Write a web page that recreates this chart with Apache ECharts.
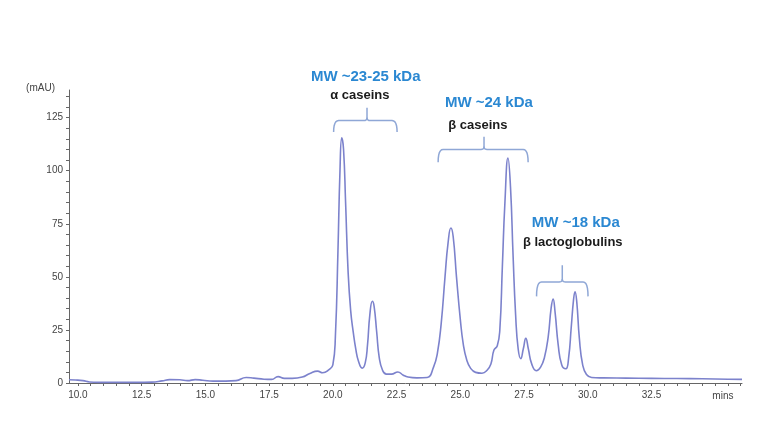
<!DOCTYPE html>
<html>
<head>
<meta charset="utf-8">
<title>Milk protein chromatogram</title>
<script src="https://cdn.jsdelivr.net/npm/echarts@6/dist/echarts.min.js"></script>
<style>
    html, body { margin: 0; padding: 0; background: #fff; }
    #chart { width: 768px; height: 432px; }
</style>
</head>
<body>
<div id="chart"></div>
<script>
// retention time (mins) and absorbance (mAU)
var times = [
    9.65, 9.9, 10.2, 10.45, 10.8, 11.5, 12.3, 12.9, 13.3, 13.6,
    14.0, 14.3, 14.6, 14.9, 15.3, 15.8, 16.2, 16.6, 16.9, 17.3,
    17.6, 17.85, 18.1, 18.4, 18.8, 19.1, 19.4, 19.6, 19.85, 20.0,
    20.1, 20.2, 20.28, 20.35, 20.42, 20.5, 20.6, 20.7, 20.8, 20.9,
    21.0, 21.15, 21.27, 21.36, 21.45, 21.55, 21.62, 21.72, 21.82, 21.95,
    22.1, 22.3, 22.55, 22.75, 22.95, 23.3, 23.7, 23.95, 24.1, 24.25,
    24.4, 24.52, 24.63, 24.72, 24.85, 25.0, 25.12, 25.25, 25.4, 25.6,
    25.85, 26.05, 26.2, 26.32, 26.45, 26.55, 26.65, 26.75, 26.87, 26.97,
    27.07, 27.17, 27.27, 27.37, 27.47, 27.57, 27.67, 27.8, 27.98, 28.15,
    28.3, 28.45, 28.56, 28.64, 28.72, 28.84, 28.98, 29.14, 29.25, 29.35,
    29.44, 29.5, 29.57, 29.67, 29.8, 29.95, 30.15, 30.6, 31.5, 32.5,
    33.5, 34.5, 35.5, 36.05
];
var absorbance = [
    1.5, 1.4, 1.1, 0.5, 0.3, 0.3, 0.3, 0.4, 1.0, 1.6,
    1.5, 1.1, 1.6, 1.3, 0.9, 0.9, 1.1, 2.6, 2.3, 1.8,
    1.7, 3.0, 2.2, 2.2, 2.8, 4.5, 5.6, 4.8, 6.3, 8.5,
    22, 62, 100, 115.5, 110, 85, 52, 34, 24, 16,
    10.5, 7, 9.5, 18, 32, 38.5, 36, 24, 12, 6,
    4.2, 4.2, 5.2, 3.8, 2.8, 2.4, 2.6, 7.5, 14, 28,
    50, 66, 73, 69, 50, 30, 18, 11, 7, 5,
    4.6, 6, 9, 15.5, 17.5, 25, 55, 85, 106, 92,
    60, 32, 16, 11.5, 16, 21, 16, 9, 5.8, 7.5,
    12, 22, 35, 39.5, 33, 18, 8.5, 6.7, 12, 26,
    39, 43, 38, 21, 8.5, 4, 2.6, 2.4, 2.3, 2.2,
    2.1, 2.0, 1.8, 1.7
];

var xLabelValues = [10, 12.5, 15, 17.5, 20, 22.5, 25, 27.5, 30, 32.5];
var xTickValues = [];
for (var t = 10; t <= 36; t += 0.5) { xTickValues.push(t); }
var yLabelValues = [0, 25, 50, 75, 100, 125];
var yTickValues = [];
for (var v = 0; v <= 135; v += 5) { yTickValues.push(v); }

// annotation groups: bracket span [from, to, centre] in mins, levels [bar, ends, stem] in mAU
var groupNames = ['α caseins', 'β caseins', 'β lactoglobulins'];
var groupWeights = ['MW ~23-25 kDa', 'MW ~24 kDa', 'MW ~18 kDa'];
var bracketSpans = [[20.03, 22.52, 21.34], [24.13, 27.66, 25.93], [27.99, 30.01, 29.0]];
var bracketLevels = [[123.6, 118.2, 129.6], [110, 104, 116], [47.6, 40.8, 55.5]];
var weightAnchors = [[21.29, 144], [26.12, 132], [29.53, 75.5]];
var nameAnchors = [[21.06, 135.5], [25.69, 121.5], [29.41, 66]];

var seriesData = times.map(function (t, i) { return [t, absorbance[i]]; });

var myChart = echarts.init(document.getElementById('chart'));

var axisColor = '#666';
var labelColor = '#444';
var labelFont = 'Liberation Sans, Arial';

var option = {
    backgroundColor: '#fff',
    animation: false,
    grid: { left: 69, right: 26, top: 90, bottom: 49 },
    xAxis: {
        type: 'value',
        min: 9.65,
        max: 36.05,
        splitLine: { show: false },
        axisLine: { lineStyle: { color: axisColor, width: 1 } },
        axisTick: { show: true, customValues: xTickValues, length: 3, lineStyle: { color: axisColor } },
        axisLabel: {
            customValues: xLabelValues,
            color: labelColor, fontSize: 10, fontFamily: labelFont, margin: 7,
            formatter: function (val) { return val.toFixed(1); }
        }
    },
    yAxis: {
        type: 'value',
        min: 0,
        max: 138,
        name: '(mAU)',
        nameLocation: 'end',
        nameGap: 2,
        nameTextStyle: {
            color: labelColor, fontSize: 10, fontFamily: labelFont,
            align: 'right', verticalAlign: 'middle', padding: [0, 14, 0, 0]
        },
        splitLine: { show: false },
        axisLine: { show: true, lineStyle: { color: axisColor, width: 1 } },
        axisTick: { show: true, customValues: yTickValues, length: 3, lineStyle: { color: axisColor } },
        axisLabel: {
            customValues: yLabelValues,
            color: labelColor, fontSize: 10, fontFamily: labelFont, margin: 6
        }
    },
    series: [
        {
            name: 'UV 280',
            type: 'line',
            data: seriesData,
            showSymbol: false,
            smooth: 0.5,
            lineStyle: { color: '#7c82cc', width: 1.6 },
            z: 2
        }
    ]
};

myChart.setOption(option);

function px(x, y) {
    return myChart.convertToPixel({ gridIndex: 0 }, [x, y]);
}

// sample a quadratic bezier into points
function quad(p0, c, p1, out) {
    for (var k = 1; k <= 6; k++) {
        var s = k / 6, u = 1 - s;
        out.push([u * u * p0[0] + 2 * u * s * c[0] + s * s * p1[0],
                  u * u * p0[1] + 2 * u * s * c[1] + s * s * p1[1]]);
    }
}

function drawAnnotations() {
    var els = [];
    bracketSpans.forEach(function (span, i) {
        var lv = bracketLevels[i];
        var a = px(span[0], lv[1]), b = px(span[1], lv[1]);
        var top = px(span[2], lv[0]), stem = px(span[2], lv[2]);
        var y = top[1], cx = top[0], r = 5, r2 = 3;
        var left = [a];
        quad(a, [a[0], y], [a[0] + r, y], left);
        left.push([cx - r2, y]);
        quad([cx - r2, y], [cx, y], [cx, y - r2], left);
        left.push([cx, stem[1]]);
        var right = [[cx, y - r2]];
        quad([cx, y - r2], [cx, y], [cx + r2, y], right);
        right.push([b[0] - r, y]);
        quad([b[0] - r, y], [b[0], y], b, right);
        [left, right].forEach(function (pts) {
            els.push({
                type: 'polyline',
                shape: { points: pts },
                style: { fill: null, stroke: '#8fa7d6', lineWidth: 1.5 },
                silent: true
            });
        });
        var w = px(weightAnchors[i][0], weightAnchors[i][1]);
        els.push({
            type: 'text',
            x: w[0], y: w[1],
            style: {
                text: groupWeights[i], fill: '#2b88d2',
                font: 'bold 15px "Liberation Sans", Arial, sans-serif',
                align: 'center', verticalAlign: 'middle'
            }
        });
        var n = px(nameAnchors[i][0], nameAnchors[i][1]);
        els.push({
            type: 'text',
            x: n[0], y: n[1],
            style: {
                text: groupNames[i], fill: '#1a1a1a',
                font: 'bold 13px "Liberation Sans", Arial, sans-serif',
                align: 'center', verticalAlign: 'middle'
            }
        });
    });
    // x axis unit, sitting level with the tick labels at the axis end
    var end = px(35.3, 0);
    els.push({
        type: 'text',
        x: end[0], y: end[1] + 13,
        style: {
            text: 'mins', fill: labelColor,
            font: '10px "Liberation Sans", Arial, sans-serif',
            align: 'center', verticalAlign: 'middle'
        }
    });
    myChart.setOption({ graphic: els });
}

drawAnnotations();

window.addEventListener('resize', function () {
    myChart.resize();
    drawAnnotations();
});
</script>
</body>
</html>
